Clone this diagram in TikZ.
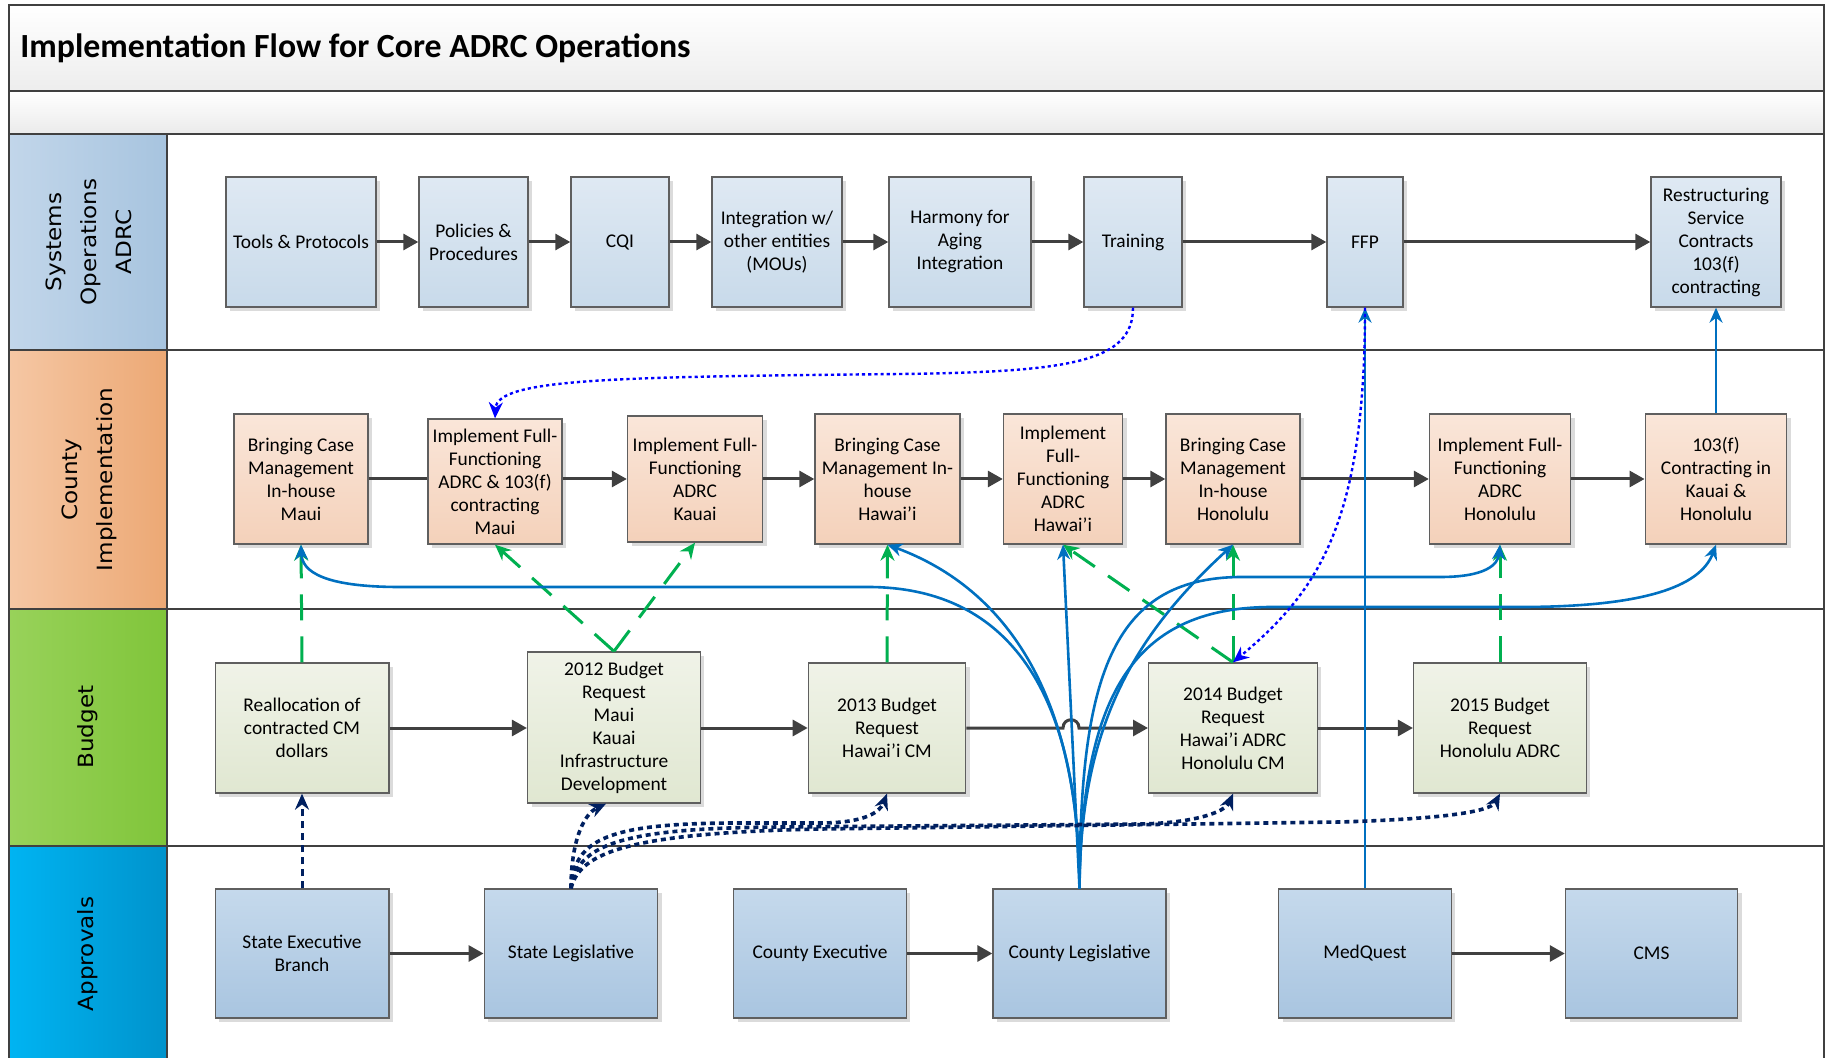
\documentclass[tikz,border=0pt]{standalone}
\usepackage{fontspec}
\setmainfont{Carlito}
\newfontfamily\lanefont[FakeStretch=1.1]{DejaVu Sans}
\usetikzlibrary{arrows.meta,shadows}

\definecolor{frameline}{HTML}{404040}
\definecolor{flowgray}{HTML}{404040}
\definecolor{boxline}{HTML}{5F5F5F}
\definecolor{sysTop}{HTML}{DFE9F3}
\definecolor{sysBot}{HTML}{C8DAEA}
\definecolor{cntTop}{HTML}{FAE6D9}
\definecolor{cntBot}{HTML}{F4D1BA}
\definecolor{budTop}{HTML}{F0F3E8}
\definecolor{budBot}{HTML}{E0E7D1}
\definecolor{appTop}{HTML}{C5D9EC}
\definecolor{appBot}{HTML}{A9C5E0}
\definecolor{greenarr}{HTML}{00B050}
\definecolor{bluearr}{HTML}{0070C0}
\definecolor{dotblue}{HTML}{0000FF}
\definecolor{navy}{HTML}{002060}
\definecolor{sysLa}{HTML}{C2D6EA}
\definecolor{sysLb}{HTML}{A7C4DF}
\definecolor{cntLa}{HTML}{F5C7A4}
\definecolor{cntLb}{HTML}{ECA874}
\definecolor{budLa}{HTML}{98D25A}
\definecolor{budLb}{HTML}{80C53A}
\definecolor{appLa}{HTML}{00B4F2}
\definecolor{appLb}{HTML}{0093CC}

\begin{document}
\begin{tikzpicture}[x=0.5pt,y=-0.5pt,
  box/.style={draw=boxline, line width=0.7pt, align=center, inner sep=1pt,
    text=black, font=\fontsize{9.7}{11.5}\selectfont,
    drop shadow={shadow xshift=2pt, shadow yshift=-2pt, fill=black!14, opacity=1}},
  sysbox/.style={box, top color=sysTop, bottom color=sysBot},
  cntbox/.style={box, top color=cntTop, bottom color=cntBot},
  budbox/.style={box, top color=budTop, bottom color=budBot},
  appbox/.style={box, top color=appTop, bottom color=appBot},
  sz/.style 2 args={minimum width=#1, minimum height=#2},
  lanelab/.style={rotate=90, align=center, text=black,
    font=\lanefont\fontsize{10.5}{17.5}\selectfont},
  lanerule/.style={draw=frameline, line width=1pt},
  flow/.style={draw=flowgray, line width=1.5pt, -{Triangle[length=7.5pt,width=8pt]}},
  flowline/.style={draw=flowgray, line width=1.5pt},
  greendash/.style={draw=greenarr, line width=1.5pt, dash pattern=on 13pt off 8pt,
    -{Stealth[length=8pt,width=7pt]}},
  bluecurve/.style={draw=bluearr, line width=1.3pt, -{Stealth[length=7.5pt,width=6.5pt]}},
  bluedot/.style={draw=dotblue, line width=1.2pt, dash pattern=on 1.6pt off 1.5pt,
    -{Stealth[length=8pt,width=7pt]}},
  navydot/.style={draw=navy, line width=1.8pt, dash pattern=on 2.5pt off 2pt,
    -{Stealth[length=8pt,width=7pt]}},
  navydash/.style={draw=navy, line width=1.5pt, dash pattern=on 3.5pt off 2.5pt,
    -{Stealth[length=8pt,width=7pt]}}
]
\useasboundingbox (0,0) rectangle (1830,1058);
\clip (0,0) rectangle (1830,1058);

% ---- swimlane frame ----
\fill[top color=white, bottom color=black!7] (9,5) rectangle (1824,91);
\fill[top color=white, bottom color=black!8] (9,91) rectangle (1824,134);
\fill[left color=sysLa, right color=sysLb] (9,134) rectangle (167,350);
\fill[left color=cntLa, right color=cntLb] (9,350) rectangle (167,609);
\fill[left color=budLa, right color=budLb] (9,609) rectangle (167,846);
\fill[left color=appLa, right color=appLb] (9,846) rectangle (167,1070);
\draw[lanerule] (9,5) rectangle (1824,1070);
\draw[lanerule] (9,91) -- (1824,91);
\draw[lanerule] (9,134) -- (1824,134);
\draw[lanerule] (9,350) -- (1824,350);
\draw[lanerule] (9,609) -- (1824,609);
\draw[lanerule] (9,846) -- (1824,846);
\draw[lanerule] (167,134) -- (167,1070);

\node[anchor=west, inner sep=0pt, font=\bfseries\fontsize{16.9}{20}\selectfont] (title) at (20,48)
  {Implementation Flow for Core ADRC Operations};

\node[lanelab] (lsys) at (89,242) {Systems\\Operations\\ADRC};
\node[lanelab] (lcnt) at (89,479.5) {County\\Implementation};
\node[lanelab] (lbud) at (88,727) {Budget};
\node[lanelab] (lapp) at (88,954) {Approvals};

% ---- Systems Operations ADRC ----
\node[sysbox, sz={75pt}{65pt}] (t1) at (301,242) {Tools \& Protocols};
\node[sysbox, sz={54.5pt}{65pt}] (t2) at (473.5,242) {Policies \&\\Procedures};
\node[sysbox, sz={49pt}{65pt}] (t3) at (620,242) {CQI};
\node[sysbox, sz={65pt}{65pt}] (t4) at (777,242) {Integration w/\\other entities\\(MOUs)};
\node[sysbox, sz={71pt}{65pt}] (t5) at (960,242) {Harmony for\\Aging\\Integration};
\node[sysbox, sz={49pt}{65pt}] (t6) at (1133,242) {Training};
\node[sysbox, sz={38pt}{65pt}] (t7) at (1365,242) {FFP};
\node[sysbox, sz={65pt}{65pt}] (t8) at (1716,242) {Restructuring\\Service\\Contracts\\103(f)\\contracting};

% ---- County Implementation ----
\node[cntbox, sz={67pt}{65pt}] (c1) at (301,479) {Bringing Case\\Management\\In-house\\Maui};
\node[cntbox, sz={67pt}{62.5pt}] (c2) at (495,481.5) {Implement Full-\\Functioning\\ADRC \& 103(f)\\contracting\\Maui};
\node[cntbox, sz={67.5pt}{63pt}] (c3) at (695,479) {Implement Full-\\Functioning\\ADRC\\Kauai};
\node[cntbox, sz={72.5pt}{65pt}] (c4) at (887.5,479) {Bringing Case\\Management In-\\house\\Hawai’i};
\node[cntbox, sz={59.5pt}{65pt}] (c5) at (1063,479) {Implement\\Full-\\Functioning\\ADRC\\Hawai’i};
\node[cntbox, sz={67pt}{65pt}] (c6) at (1233,479) {Bringing Case\\Management\\In-house\\Honolulu};
\node[cntbox, sz={70.5pt}{65pt}] (c7) at (1500,479) {Implement Full-\\Functioning\\ADRC\\Honolulu};
\node[cntbox, sz={70.75pt}{65pt}] (c8) at (1716,479) {103(f)\\Contracting in\\Kauai \&\\Honolulu};

% ---- Budget ----
\node[budbox, sz={86.8pt}{65pt}] (b1) at (302,728) {Reallocation of\\contracted CM\\dollars};
\node[budbox, sz={86.4pt}{75.5pt}] (b2) at (614,727.5) {2012 Budget\\Request\\Maui\\Kauai\\Infrastructure\\Development};
\node[budbox, sz={78.6pt}{65pt}] (b3) at (887,728) {2013 Budget\\Request\\Hawai’i CM};
\node[budbox, sz={84.3pt}{65pt}] (b4) at (1233,728) {2014 Budget\\Request\\Hawai’i ADRC\\Honolulu CM};
\node[budbox, sz={86.4pt}{65pt}] (b5) at (1500,728) {2015 Budget\\Request\\Honolulu ADRC};

% ---- Approvals ----
\node[appbox, sz={86.8pt}{64.5pt}] (a1) at (302,953.5) {State Executive\\Branch};
\node[appbox, sz={86.75pt}{64.5pt}] (a2) at (571,953.5) {State Legislative};
\node[appbox, sz={86.4pt}{64.5pt}] (a3) at (820,953.5) {County Executive};
\node[appbox, sz={86.5pt}{64.5pt}] (a4) at (1079.5,953.5) {County Legislative};
\node[appbox, sz={86.25pt}{64.5pt}] (a5) at (1365,953.5) {MedQuest};
\node[appbox, sz={86pt}{64.5pt}] (a6) at (1651.5,953.5) {CMS};

% ---- gray flow arrows ----
\draw[flow] (t1) -- (t2);
\draw[flow] (t2) -- (t3);
\draw[flow] (t3) -- (t4);
\draw[flow] (t4) -- (t5);
\draw[flow] (t5) -- (t6);
\draw[flow] (t6) -- (t7);
\draw[flow] (t7) -- (t8);

\draw[flowline] (c1.east) -- (c1.east -| c2.west);
\draw[flow] (c3.west -| c2.east) -- (c3.west);
\draw[flow] (c3) -- (c4);
\draw[flow] (c4) -- (c5);
\draw[flow] (c5) -- (c6);
\draw[flow] (c6) -- (c7);
\draw[flow] (c7) -- (c8);

\draw[flow] (b1.east) -- (b1.east -| b2.west);
\draw[flow] (b3.west -| b2.east) -- (b3.west);
\draw[flow] (b3.east) -- (1063,728) .. controls (1063,717) and (1079,717) .. (1079,728) -- (b4.west);
\draw[flow] (b4) -- (b5);

\draw[flow] (a1) -- (a2);
\draw[flow] (a3) -- (a4);
\draw[flow] (a5) -- (a6);

% ---- green dashed: budget -> county ----
\draw[greendash] (b1.north) -- (c1.south);
\draw[greendash] (b2.north) -- (c2.south);
\draw[greendash] (b2.north) -- (c3.south);
\draw[greendash] (b3.north) -- (c4.south);
\draw[greendash] (b4.north) -- (c5.south);
\draw[greendash] (b4.north) -- (c6.south);
\draw[greendash] (b5.north) -- (c7.south);

% ---- blue solid curves from County Legislative ----
\draw[bluecurve] (a4.north) .. controls (1079,680) and (1000,588) .. (870,587)
  -- (400,587) .. controls (325,587) and (302,572) .. (c1.south);
\draw[bluecurve] (a4.north) .. controls (1079,700) and (1010,590) .. (c4.south);
\draw[bluecurve] (a4.north) -- (c5.south);
\draw[bluecurve] (a4.north) .. controls (1080,720) and (1140,630) .. (c6.south);
\draw[bluecurve] (a4.north) .. controls (1080,680) and (1110,578) .. (1240,577)
  -- (1440,577) .. controls (1485,577) and (1498,565) .. (c7.south);
\draw[bluecurve] (a4.north) .. controls (1082,700) and (1130,608) .. (1270,607)
  -- (1520,607) .. controls (1640,607) and (1700,588) .. (c8.south);
\draw[bluecurve] (a5.north) -- (t7.south);
\draw[bluecurve] (c8.north) -- (t8.south);

% ---- blue dotted ----
\draw[bluedot] (t6.south) .. controls (1133,362) and (1070,372) .. (900,374)
  .. controls (620,377) and (497,378) .. (c2.north);
\draw[bluedot] (t7.south) .. controls (1365,520) and (1320,590) .. (b4.north);

% ---- navy: approvals -> budget ----
\draw[navydash] (a1.north) -- (b1.south);
\draw[navydot] (a2.north) .. controls (571,845) and (582,815) .. ([xshift=-4pt]b2.south);
\draw[navydot] (a2.north) .. controls (574,838) and (610,823) .. (740,823)
  -- (820,823) .. controls (865,823) and (880,812) .. (b3.south);
\draw[navydot] (a2.north) .. controls (577,845) and (620,828) .. (780,827)
  -- (1140,824) .. controls (1195,823) and (1225,812) .. (b4.south);
\draw[navydot] (a2.north) .. controls (580,852) and (630,833) .. (820,829)
  -- (1340,822) .. controls (1440,819) and (1490,812) .. (b5.south);
\end{tikzpicture}
\end{document}
